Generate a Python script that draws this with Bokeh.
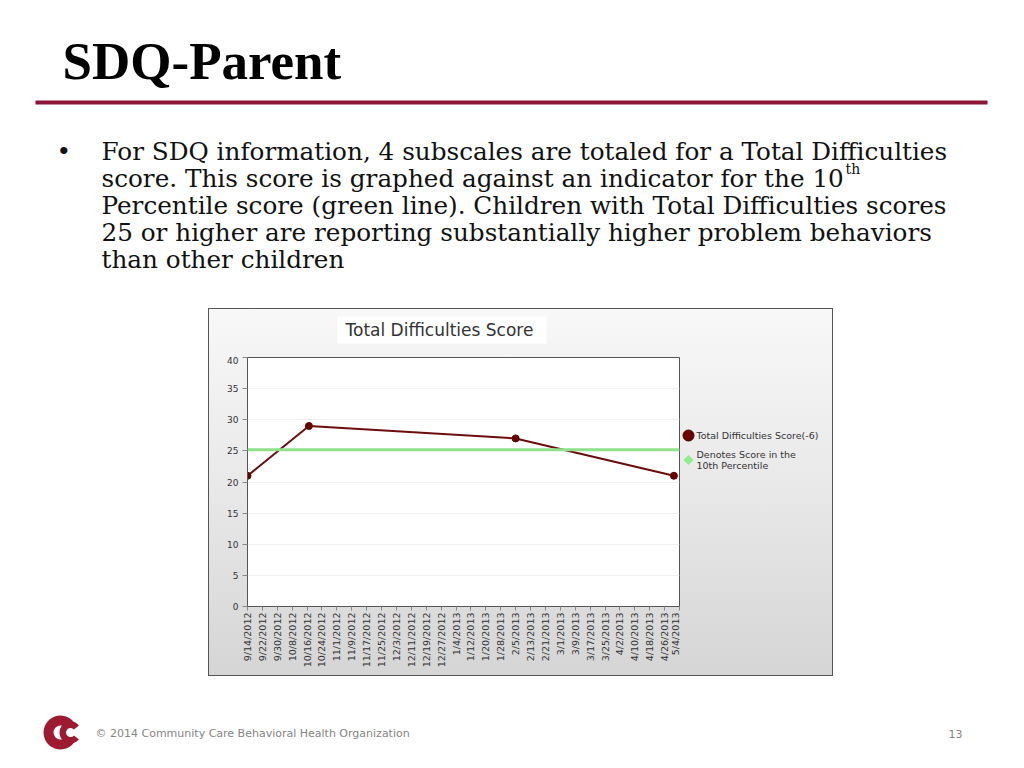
import math
from datetime import date

from bokeh.plotting import figure
from bokeh.models import (Range1d, FixedTicker, Span, Spacer)
from bokeh.layouts import column, row
from bokeh.embed import file_html
from bokeh.resources import INLINE
from bokeh.core.properties import value

# ---------------- data ----------------
slide_title = "SDQ-Parent"
bullet_lines = [
    "For SDQ information, 4 subscales are totaled for a Total Difficulties",
    "score. This score is graphed against an indicator for the 10",
    "Percentile score (green line). Children with Total Difficulties scores",
    "25 or higher are reporting substantially higher problem behaviors",
    "than other children",
]
superscript_text = "th"
chart_title = "Total Difficulties Score"
tick_dates = [
    "9/14/2012", "9/22/2012", "9/30/2012", "10/8/2012", "10/16/2012", "10/24/2012",
    "11/1/2012", "11/9/2012", "11/17/2012", "11/25/2012", "12/3/2012", "12/11/2012",
    "12/19/2012", "12/27/2012", "1/4/2013", "1/12/2013", "1/20/2013", "1/28/2013",
    "2/5/2013", "2/13/2013", "2/21/2013", "3/1/2013", "3/9/2013", "3/17/2013",
    "3/25/2013", "4/2/2013", "4/10/2013", "4/18/2013", "4/26/2013", "5/4/2013",
]
score_dates = ["9/14/2012", "10/17/2012", "2/5/2013", "5/1/2013"]
score_values = [21, 29, 27, 21]
percentile_10th = 25.2
y_ticks = [0, 5, 10, 15, 20, 25, 30, 35, 40]
series_label = "Total Difficulties Score(-6)"
threshold_label = "Denotes Score in the\n10th Percentile"
footer_text = "\u00a9 2014 Community Care Behavioral Health Organization"
page_number = "13"


def parse(s):
    m, d, y = (int(v) for v in s.split("/"))
    return date(y, m, d)


origin = parse(tick_dates[0])
tick_days = [(parse(s) - origin).days for s in tick_dates]
score_days = [(parse(s) - origin).days for s in score_dates]

MAROON = "#6b0d0d"
POINT = "#6b0000"
GREEN = "#8ee08a"
CRIMSON = "#8c1436"
EDGE = "#555555"
GRADIENT = "linear-gradient(180deg, #f8f8f8 0%, #e8e8e8 50%, #d5d5d5 100%)"
BASE_FIX = 0.39  # alphabetic-baseline correction (fraction of font size)


def base(y, size):
    return y - BASE_FIX * size


def box_style(offset, shadows):
    return {
        "background-image": GRADIENT,
        "background-size": "100% 368px",
        "background-position": f"0 -{offset}px",
        "background-repeat": "no-repeat",
        "box-shadow": ", ".join(shadows),
    }


SH_LEFT = f"inset 1px 0 0 {EDGE}"
SH_RIGHT = f"inset -1px 0 0 {EDGE}"
SH_TOP = f"inset 0 1px 0 {EDGE}"
SH_BOTTOM = f"inset 0 -1px 0 {EDGE}"

# ---------------- top of slide ----------------
top = figure(width=1008, height=308, x_range=Range1d(0, 1008), y_range=Range1d(308, 0),
             output_backend="svg", toolbar_location=None, min_border=0,
             x_axis_location=None, y_axis_location=None)
top.grid.visible = False
top.outline_line_color = None
top.border_fill_color = "white"
top.background_fill_color = "white"

title_size = 53
top.text(x=[62], y=[base(81, title_size)], text=[slide_title],
         text_font=value("Liberation Serif"), text_font_size=f"{title_size}px",
         text_font_style="bold", text_color="#000000", text_baseline="alphabetic")
top.segment(x0=[35], y0=[102], x1=[987], y1=[102], line_width=4, line_color=CRIMSON)

body_size = 24.7
line_y0, line_step = 161, 26.8
top.text(x=[56], y=[base(line_y0, body_size)], text=["\u2022"],
         text_font=value("DejaVu Serif"), text_font_size=f"{body_size}px",
         text_color="#111111", text_baseline="alphabetic")
top.text(x=[101] * len(bullet_lines),
         y=[base(line_y0 + i * line_step, body_size) for i in range(len(bullet_lines))],
         text=bullet_lines, text_font=value("DejaVu Serif"),
         text_font_size=f"{body_size}px", text_color="#111111", text_baseline="alphabetic")
sup_size = 14
top.text(x=[845], y=[base(174, sup_size)], text=[superscript_text],
         text_font=value("DejaVu Serif"), text_font_size=f"{sup_size}px",
         text_color="#111111", text_baseline="alphabetic")

# ---------------- chart title strip ----------------
strip = figure(width=472, height=48, x_range=Range1d(247, 679), y_range=Range1d(356, 308),
               output_backend="svg", toolbar_location=None, min_border_left=39,
               min_border_right=1, min_border_top=0, min_border_bottom=0,
               x_axis_location=None, y_axis_location=None)
strip.grid.visible = False
strip.outline_line_color = None
strip.background_fill_alpha = 0
strip.border_fill_alpha = 0
strip.styles = box_style(0, [SH_LEFT, SH_TOP])
strip.quad(left=[337], right=[546], top=[316], bottom=[343], fill_color="white",
           line_color=None)
strip.text(x=[345], y=[329.5], text=[chart_title], text_font=value("DejaVu Sans"),
           text_font_size="17px", text_color="#333333", text_baseline="middle")

# ---------------- chart ----------------
ch = figure(width=472, height=320, x_range=Range1d(tick_days[0], tick_days[-1]),
            y_range=Range1d(y_ticks[0], y_ticks[-1]), output_backend="svg",
            toolbar_location=None, min_border_left=39, min_border_right=1,
            min_border_top=1, min_border_bottom=70)
ch.background_fill_color = "white"
ch.border_fill_color = None
ch.border_fill_alpha = 0
ch.outline_line_color = EDGE
ch.styles = box_style(48, [SH_LEFT, SH_BOTTOM])

ch.yaxis.ticker = FixedTicker(ticks=y_ticks)
ch.xaxis.ticker = FixedTicker(ticks=tick_days)
ch.xaxis.major_label_overrides = {d: s for d, s in zip(tick_days, tick_dates)}
ch.xaxis.major_label_orientation = math.pi / 2
for ax in (ch.xaxis, ch.yaxis):
    ax.major_label_text_font = "DejaVu Sans"
    ax.major_label_text_color = "#333333"
    ax.axis_line_color = EDGE
    ax.major_tick_line_color = "#888888"
    ax.major_tick_in = 0
    ax.minor_tick_out = 0
    ax.minor_tick_in = 0
ch.yaxis.major_label_text_font_size = "9px"
ch.yaxis.major_tick_out = 5
ch.yaxis.major_label_standoff = 4
ch.xaxis.major_label_text_font_size = "9.5px"
ch.xaxis.major_tick_out = 4
ch.xaxis.major_label_standoff = 2
ch.xgrid.visible = False
ch.ygrid.grid_line_color = "#f0f0f0"

ch.add_layout(Span(location=percentile_10th, dimension="width", line_color=GREEN,
                   line_width=3))
ch.line(x=score_days, y=score_values, line_color=MAROON, line_width=2)
ch.scatter(x=score_days, y=score_values, marker="circle", size=7,
           fill_color=POINT, line_color="#5a0000")

# ---------------- legend panel (right part of the chart box) ----------------
leg = figure(width=153, height=368, x_range=Range1d(679, 832), y_range=Range1d(606, 357),
             output_backend="svg", toolbar_location=None, min_border_left=0,
             min_border_right=0, min_border_top=49, min_border_bottom=70,
             x_axis_location=None, y_axis_location=None)
leg.grid.visible = False
leg.outline_line_color = None
leg.background_fill_alpha = 0
leg.border_fill_alpha = 0
leg.styles = box_style(0, [SH_RIGHT, SH_TOP, SH_BOTTOM])
leg_x, leg_y = [687, 687], [435, 459.5]
leg.scatter(x=leg_x[:1], y=leg_y[:1], marker="circle", size=11, fill_color=POINT,
            line_color="#4a0000")
leg.scatter(x=leg_x[1:], y=leg_y[1:], marker="square", angle=math.pi / 4, size=6.5,
            fill_color="#90ee90", line_color="#90ee90")
leg.text(x=[x + 8 for x in leg_x], y=leg_y, text=[series_label, threshold_label],
         text_font=value("DejaVu Sans"), text_font_size="9.5px", text_color="#333333",
         text_baseline="middle", text_line_height=1.05)

# ---------------- bottom of slide ----------------
bot = figure(width=1008, height=84, x_range=Range1d(0, 1008), y_range=Range1d(760, 676),
             output_backend="svg", toolbar_location=None, min_border=0,
             x_axis_location=None, y_axis_location=None)
bot.grid.visible = False
bot.outline_line_color = None
bot.border_fill_color = "white"
bot.background_fill_color = "white"

bot.annular_wedge(x=[60], y=[732], inner_radius=7, outer_radius=17, start_angle=0.6,
                  end_angle=2 * math.pi - 0.6, fill_color="#9e1a30", line_color=None)
bot.annular_wedge(x=[70], y=[732], inner_radius=4.5, outer_radius=11, start_angle=0.7,
                  end_angle=2 * math.pi - 0.7, fill_color="#9e1a30", line_color=None)
bot.text(x=[95], y=[733], text=[footer_text], text_font=value("DejaVu Sans"),
         text_font_size="11px", text_color="#858585", text_baseline="middle")
bot.text(x=[962], y=[733], text=[page_number], text_font=value("DejaVu Sans"),
         text_font_size="11px", text_color="#858585", text_baseline="middle",
         text_align="right")

layout = column(top, row(Spacer(width=208, height=368), column(strip, ch), leg,
                         Spacer(width=175, height=368)), bot)

with open("out.html", "w") as f:
    f.write(file_html(layout, INLINE))
